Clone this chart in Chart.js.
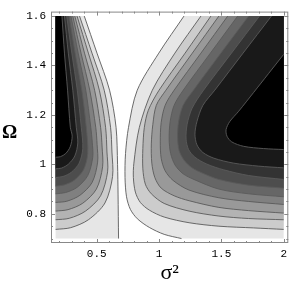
<!DOCTYPE html>
<html>
<head>
<meta charset="utf-8">
<script src="https://cdn.jsdelivr.net/npm/chart.js@4.4.1/dist/chart.umd.min.js"></script>
<style>
  html, body { margin: 0; padding: 0; background: #fff; }
  #wrap { position: relative; width: 291px; height: 286px; }
  #omega { position: absolute; left: 2px; top: 122px; font: bold 19px 'Liberation Serif', serif; line-height: 19px; color: #000; }
</style>
</head>
<body>
<div id="wrap">
  <canvas id="contour" width="291" height="286"></canvas>
  <div id="omega">Ω</div>
</div>
<script>
// plotted data range
const sigmaRange = [0.17, 2];
const omegaRange = [0.7, 1.6];

// frame ticks
const xTickValues = [0.5, 1, 1.5, 2];
const xMinorTicks = [0.2, 0.3, 0.4, 0.6, 0.7, 0.8, 0.9, 1.1, 1.2, 1.3, 1.4, 1.6, 1.7, 1.8, 1.9];
const yTickValues = [0.8, 1, 1.2, 1.4, 1.6];
const yMinorTicks = [0.7, 0.75, 0.85, 0.9, 0.95, 1.05, 1.1, 1.15, 1.25, 1.3, 1.35, 1.45, 1.5, 1.55];

// contour lines, points are [sigma^2, Omega]
// left lobe, level 1 (outermost) .. level 10 (black core)
const leftLevel1 = [[0.400,1.6],[0.502,1.45],[0.603,1.30],[0.655,1.15],[0.667,1.0],[0.671,0.88],[0.675,0.70]];
const leftLevel2 = [[0.362,1.6],[0.462,1.45],[0.560,1.3],[0.611,1.15],[0.622,1.05],[0.627,0.951],[0.566,0.844],[0.433,0.776],[0.291,0.744],[0.17,0.737]];
const leftLevel3 = [[0.342,1.6],[0.433,1.45],[0.521,1.3],[0.571,1.15],[0.582,1.05],[0.587,0.970],[0.531,0.873],[0.410,0.811],[0.280,0.782],[0.17,0.776]];
const leftLevel4 = [[0.324,1.6],[0.402,1.45],[0.483,1.3],[0.531,1.15],[0.543,1.07],[0.547,0.990],[0.497,0.900],[0.388,0.843],[0.270,0.817],[0.17,0.811]];
const leftLevel5 = [[0.308,1.6],[0.374,1.45],[0.444,1.3],[0.492,1.15],[0.503,1.08],[0.507,1.009],[0.463,0.927],[0.365,0.875],[0.260,0.851],[0.17,0.846]];
const leftLevel6 = [[0.293,1.6],[0.351,1.45],[0.412,1.3],[0.452,1.15],[0.464,1.09],[0.468,1.029],[0.428,0.955],[0.342,0.907],[0.249,0.886],[0.17,0.881]];
const leftLevel7 = [[0.278,1.6],[0.327,1.45],[0.380,1.3],[0.416,1.15],[0.428,1.044],[0.394,0.978],[0.319,0.936],[0.239,0.917],[0.17,0.912]];
const leftLevel8 = [[0.259,1.6],[0.300,1.45],[0.344,1.3],[0.376,1.15],[0.388,1.064],[0.359,1.005],[0.296,0.968],[0.229,0.951],[0.17,0.947]];
const leftLevel9 = [[0.241,1.6],[0.272,1.45],[0.308,1.3],[0.336,1.15],[0.348,1.087],[0.324,1.034],[0.273,1.001],[0.218,0.985],[0.17,0.982]];
const leftLevel10 = [[0.221,1.6],[0.241,1.45],[0.266,1.3],[0.288,1.15],[0.303,1.114],[0.287,1.071],[0.251,1.044],[0.208,1.031],[0.17,1.029]];

// right lobe, level 1 .. level 10
const rightLevel1 = [[1.20,1.6],[0.998,1.45],[0.825,1.3],[0.755,1.15],[0.731,1.044],[0.727,0.947],[0.739,0.869],[0.770,0.818],[0.826,0.780],[0.922,0.745],[1.041,0.717],[1.18,0.70]];
const rightLevel2 = [[1.336,1.6],[1.127,1.45],[0.946,1.3],[0.842,1.15],[0.798,1.005],[0.794,0.947],[0.810,0.888],[0.850,0.846],[0.922,0.815],[1.041,0.787],[1.241,0.764],[1.48,0.750],[1.759,0.743],[2.0,0.737]];
const rightLevel3 = [[1.416,1.6],[1.209,1.45],[1.0,1.3],[0.914,1.219],[0.882,1.15],[0.870,1.064],[0.870,0.982],[0.890,0.920],[0.938,0.881],[1.041,0.842],[1.241,0.811],[1.48,0.791],[1.719,0.781],[2.0,0.776]];
const rightLevel4 = [[1.48,1.6],[1.267,1.45],[1.055,1.3],[0.978,1.239],[0.950,1.161],[0.938,1.083],[0.942,1.005],[0.966,0.947],[1.017,0.904],[1.121,0.873],[1.241,0.853],[1.48,0.826],[1.719,0.813],[2.0,0.803]];
const rightLevel5 = [[1.551,1.6],[1.336,1.45],[1.121,1.3],[1.049,1.239],[1.017,1.169],[1.010,1.091],[1.017,1.025],[1.049,0.974],[1.113,0.935],[1.241,0.896],[1.48,0.865],[1.719,0.850],[2.0,0.838]];
const rightLevel6 = [[1.631,1.6],[1.412,1.45],[1.194,1.3],[1.121,1.239],[1.089,1.173],[1.081,1.102],[1.093,1.044],[1.129,0.997],[1.193,0.962],[1.280,0.939],[1.48,0.900],[1.719,0.881],[2.0,0.869]];
const rightLevel7 = [[1.719,1.6],[1.496,1.45],[1.276,1.3],[1.193,1.239],[1.157,1.173],[1.149,1.110],[1.161,1.056],[1.201,1.017],[1.265,0.986],[1.360,0.962],[1.48,0.939],[1.719,0.916],[2.0,0.904]];
const rightLevel8 = [[1.806,1.6],[1.581,1.45],[1.357,1.3],[1.265,1.227],[1.225,1.161],[1.217,1.102],[1.237,1.060],[1.288,1.029],[1.384,1.001],[1.519,0.978],[1.719,0.955],[2.0,0.939]];
const rightLevel9 = [[1.902,1.6],[1.674,1.45],[1.447,1.3],[1.352,1.239],[1.304,1.173],[1.288,1.122],[1.304,1.079],[1.352,1.048],[1.44,1.025],[1.599,1.005],[1.798,0.993],[2.0,0.986]];
const rightLevel10 = [[2.0,1.445],[1.878,1.367],[1.759,1.291],[1.639,1.215],[1.567,1.173],[1.538,1.141],[1.545,1.114],[1.583,1.091],[1.679,1.073],[1.838,1.064],[2.0,1.060]];

const leftLines = [leftLevel1, leftLevel2, leftLevel3, leftLevel4, leftLevel5, leftLevel6, leftLevel7, leftLevel8, leftLevel9, leftLevel10];
const rightLines = [rightLevel1, rightLevel2, rightLevel3, rightLevel4, rightLevel5, rightLevel6, rightLevel7, rightLevel8, rightLevel9, rightLevel10];

const TENSION = 0.3;
const datasets = [];

// shaded band: the contour closed along the edge of the plotted range.
// end points and corners are doubled so the spline stays straight along the edges
function addRegion(line, level, side) {
    const first = line[0];
    const last = line[line.length - 1];
    const edge = side === 'left' ? sigmaRange[0] : sigmaRange[1];
    let corners;
    if (last[1] <= omegaRange[0]) corners = [[edge, omegaRange[0]], [edge, omegaRange[1]]];
    else if (first[1] < omegaRange[1]) corners = [];
    else corners = [[edge, omegaRange[1]]];

    const pts = [...line, last];
    corners.forEach(c => pts.push(c, c));
    pts.push(first);

    const g = Math.round(255 * (1 - level / 10));
    datasets.push({
        data: pts,
        fill: 'shape',
        backgroundColor: `rgb(${g},${g},${g})`,
        borderColor: 'transparent',
        borderWidth: 0,
        tension: TENSION,
        pointRadius: 0,
        order: 1000 - datasets.length,
    });
}

function addLine(line) {
    datasets.push({
        data: line,
        fill: false,
        borderColor: '#5a5a5a',
        borderWidth: 0.9,
        tension: TENSION,
        pointRadius: 0,
        order: 1000 - datasets.length,
    });
}

leftLines.forEach((l, i) => addRegion(l, i + 1, 'left'));
rightLines.forEach((l, i) => addRegion(l, i + 1, 'right'));
leftLines.forEach(addLine);
rightLines.forEach(addLine);

// Mathematica style frame with inward ticks on all four sides
const frameTicks = {
    id: 'frameTicks',
    afterDatasetsDraw(chart) {
        const { ctx, chartArea: a, scales: { x, y } } = chart;
        ctx.save();
        ctx.strokeStyle = '#888';
        ctx.lineWidth = 1;
        ctx.beginPath();
        const xt = (v, len) => {
            const px = Math.round(x.getPixelForValue(v)) + 0.5;
            ctx.moveTo(px, a.bottom); ctx.lineTo(px, a.bottom - len);
            ctx.moveTo(px, a.top); ctx.lineTo(px, a.top + len);
        };
        const yt = (v, len) => {
            const py = Math.round(y.getPixelForValue(v)) + 0.5;
            ctx.moveTo(a.left, py); ctx.lineTo(a.left + len, py);
            ctx.moveTo(a.right, py); ctx.lineTo(a.right - len, py);
        };
        xTickValues.forEach(v => xt(v, 4));
        xMinorTicks.forEach(v => xt(v, 2));
        yTickValues.forEach(v => yt(v, 4));
        yMinorTicks.forEach(v => yt(v, 2));
        ctx.stroke();
        ctx.strokeRect(a.left + 0.5, a.top + 0.5, a.width - 1, a.height - 1);
        ctx.restore();
    }
};

const tickFont = { family: 'Liberation Mono', size: 11 };

new Chart(document.getElementById('contour'), {
    type: 'line',
    data: { datasets },
    plugins: [frameTicks],
    options: {
        responsive: false,
        animation: false,
        events: [],
        layout: { padding: { left: 0, right: 1, top: 3, bottom: 0 } },
        plugins: { legend: { display: false }, tooltip: { enabled: false } },
        scales: {
            x: {
                type: 'linear',
                min: 0.133,
                max: 2.037,
                grid: { display: false, drawTicks: false },
                border: { display: false },
                afterBuildTicks: s => { s.ticks = xTickValues.map(v => ({ value: v })); },
                afterFit: s => { s.height = 43; },
                ticks: { padding: 4, color: '#000', font: tickFont, maxRotation: 0, autoSkip: false, callback: v => String(v) },
                title: { display: true, text: 'σ²', color: '#000', font: { family: 'Liberation Serif', size: 22 }, padding: 0 },
            },
            y: {
                type: 'linear',
                min: 0.682,
                max: 1.618,
                grid: { display: false, drawTicks: false },
                border: { display: false },
                afterBuildTicks: s => { s.ticks = yTickValues.map(v => ({ value: v })); },
                afterFit: s => { s.width = 51; },
                ticks: { padding: 5, color: '#000', font: tickFont, autoSkip: false, callback: v => String(v) },
            },
        },
    },
});
</script>
</body>
</html>
